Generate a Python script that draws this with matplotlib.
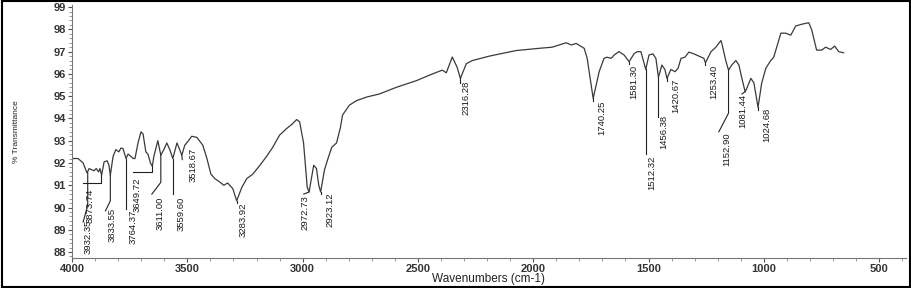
import matplotlib
matplotlib.use("Agg")
import matplotlib.pyplot as plt
from matplotlib.ticker import MultipleLocator
from matplotlib.patches import Rectangle

# spectrum (wavenumber cm-1, % transmittance)
wavenumber = [4000, 3974, 3952, 3935, 3926, 3915, 3905, 3895, 3885, 3879, 3872, 3861, 3848,
              3840, 3834, 3822, 3810, 3797, 3788, 3779, 3766, 3757, 3745, 3735, 3727, 3714,
              3701, 3692, 3680, 3671, 3660, 3652, 3645, 3628, 3615, 3602, 3589, 3576, 3563,
              3545, 3537, 3524, 3511, 3495, 3481, 3459, 3433, 3415, 3398, 3381, 3360, 3342,
              3325, 3303, 3286, 3264, 3242, 3216, 3185, 3156, 3130, 3100, 3069, 3045, 3026,
              3013, 2996, 2980, 2972, 2962, 2952, 2940, 2930, 2922, 2905, 2890, 2874, 2853,
              2836, 2827, 2797, 2766, 2723, 2667, 2593, 2506, 2437, 2394, 2377, 2351, 2330,
              2316, 2290, 2264, 2190, 2074, 1974, 1918, 1887, 1857, 1835, 1814, 1779, 1766,
              1740, 1714, 1693, 1680, 1662, 1649, 1628, 1606, 1584, 1563, 1550, 1533, 1512,
              1498, 1481, 1468, 1457, 1442, 1429, 1420, 1403, 1385, 1372, 1359, 1342, 1325,
              1303, 1281, 1260, 1253, 1229, 1208, 1186, 1182, 1165, 1153, 1139, 1121, 1108,
              1095, 1081, 1074, 1056, 1043, 1025, 1009, 991, 970, 957, 926, 905, 883, 862,
              836, 805, 792, 771, 749, 732, 710, 693, 675, 654]
transmittance = [92.2, 92.2, 92.0, 91.55, 91.75, 91.7, 91.65, 91.75, 91.6, 91.75, 91.45, 92.05, 92.1,
                 91.9, 91.45, 92.3, 92.6, 92.5, 92.67, 92.65, 92.2, 92.4, 92.3, 92.2, 92.2, 92.9,
                 93.4, 93.3, 92.5, 92.4, 92.0, 91.85, 92.3, 93.0, 92.35, 92.6, 92.9, 92.6, 92.2,
                 92.9, 92.7, 92.35, 92.8, 93.0, 93.2, 93.15, 92.8, 92.2, 91.5, 91.3, 91.15, 91.0,
                 91.1, 90.85, 90.3, 90.9, 91.3, 91.5, 91.9, 92.3, 92.7, 93.25, 93.55, 93.75, 93.95,
                 93.85, 92.9, 90.9, 90.7, 91.3, 91.9, 91.75, 91.0, 90.7, 91.7, 92.2, 92.7, 92.9,
                 93.6, 94.15, 94.6, 94.8, 94.96, 95.1, 95.4, 95.7, 96.0, 96.17, 96.05, 96.76, 96.3,
                 95.8, 96.46, 96.6, 96.8, 97.05, 97.15, 97.2, 97.3, 97.4, 97.3, 97.37, 97.15, 96.7,
                 94.9, 96.1, 96.7, 96.75, 96.7, 96.85, 97.0, 96.85, 96.55, 96.9, 97.0, 97.0, 96.2,
                 96.85, 96.9, 96.7, 95.85, 96.4, 96.2, 95.8, 96.2, 96.1, 96.25, 96.7, 96.75, 96.98,
                 96.9, 96.8, 96.7, 96.5, 97.0, 97.2, 97.5, 97.37, 96.6, 96.17, 96.4, 96.6, 96.4,
                 95.8, 95.2, 95.35, 95.8, 95.6, 94.5, 95.6, 96.26, 96.6, 96.75, 97.83, 97.83, 97.74, 98.15,
                 98.23, 98.3, 97.97, 97.07, 97.07, 97.2, 97.1, 97.25, 97.0, 96.95]

# peak labels
peak_labels = ["3932.35", "3873.74", "3833.55", "3764.37", "3649.72", "3611.00", "3559.60",
               "3518.67", "3283.92", "2972.73", "2923.12", "2316.28", "1740.25", "1581.30",
               "1512.32", "1456.38", "1420.67", "1253.40", "1152.90", "1081.44", "1024.68"]
peak_wn = [3932, 3873, 3834, 3766, 3652, 3615, 3563, 3524, 3286, 2972, 2922, 2316, 1740,
           1584, 1512, 1457, 1420, 1253, 1153, 1081, 1025]
peak_t = [91.55, 91.45, 91.45, 92.2, 91.85, 92.35, 92.2, 92.35, 90.3, 90.7, 90.7, 95.8, 94.9,
          96.55, 96.2, 95.85, 95.8, 96.5, 96.17, 95.2, 94.5]

# where the rotated text sits (x centre, top) and the leader line bends
text_pos = [(3931, 89.44), (3922, 90.87), (3827, 89.97), (3736, 89.9), (3719, 91.37),
            (3619, 90.47), (3528, 90.47), (3476, 92.67), (3260, 90.24), (2991, 90.56),
            (2882, 90.7), (2290, 95.72), (1701, 94.82), (1563, 96.4), (1485, 92.35),
            (1433, 94.15), (1381, 95.8), (1216, 96.4), (1160, 93.39), (1091, 95.1), (987, 94.46)]
leader_pts = [[(3932, 90.1), (3952, 89.35)], [(3873, 91.1), (3952, 91.1)],
              [(3834, 90.3), (3855, 89.85)], [(3766, 89.95)], [(3652, 91.6), (3736, 91.6)],
              [(3615, 91.13), (3654, 90.6)], [(3563, 90.6)], [(3522, 92.15)], [(3286, 90.2)],
              [(2995, 90.6)], [(2922, 90.6)], [(2316, 95.6)], [(1740, 94.8)], [(1584, 96.45)],
              [(1512, 92.4)], [(1457, 94.05)], [(1420, 95.7)], [(1253, 96.4)],
              [(1153, 94.24), (1195, 93.4)], [(1095, 95.1)], [(1025, 94.4)]]

fig = plt.figure(figsize=(9.12, 2.88), dpi=100)
ax = fig.add_axes([0.079, 0.104, 0.914, 0.879])

ax.plot(wavenumber, transmittance, color="#3a3a3a", linewidth=0.9)

for lab, w, t, (tx, ty), pts in zip(peak_labels, peak_wn, peak_t, text_pos, leader_pts):
    xs = [w] + [p[0] for p in pts]
    ys = [t] + [p[1] for p in pts]
    ax.plot(xs, ys, color="#222222", linewidth=0.8)
    ax.text(tx, ty, lab, rotation=90, ha="center", va="top", fontsize=6.8,
            family="Liberation Sans", color="#1a1a1a")

ax.set_xlim(4000, 385)
ax.set_ylim(87.73, 99.1)
ax.xaxis.set_major_locator(MultipleLocator(500))
ax.xaxis.set_minor_locator(MultipleLocator(100))
ax.yaxis.set_major_locator(MultipleLocator(1))
ax.yaxis.set_minor_locator(MultipleLocator(0.2))
ax.tick_params(which="major", direction="out", length=3, width=0.8, color="#555555",
               labelsize=8, pad=1.5)
ax.tick_params(which="minor", direction="out", length=2, width=0.6, color="#888888")
for lbl in ax.get_xticklabels() + ax.get_yticklabels():
    lbl.set_fontweight("bold")
    lbl.set_family("Liberation Sans")
    lbl.set_color("#333333")

for s in ["top", "right"]:
    ax.spines[s].set_visible(False)
for s in ["left", "bottom"]:
    ax.spines[s].set_color("#777777")
    ax.spines[s].set_linewidth(0.8)

ax.set_xlabel("Wavenumbers (cm-1)", fontsize=8.5, family="Liberation Sans", color="#222222")
ax.xaxis.set_label_coords(0.5, -0.06, transform=ax.transAxes)
ax.set_ylabel("% Transmittance", fontsize=6, family="Liberation Sans", color="#222222")
ax.yaxis.set_label_coords(-0.062, 0.50, transform=ax.transAxes)

fig.patches.append(Rectangle((0.002, 0.005), 0.996, 0.99, transform=fig.transFigure,
                             fill=False, edgecolor="black", linewidth=1.5))

fig.savefig("out.png", dpi=100)
